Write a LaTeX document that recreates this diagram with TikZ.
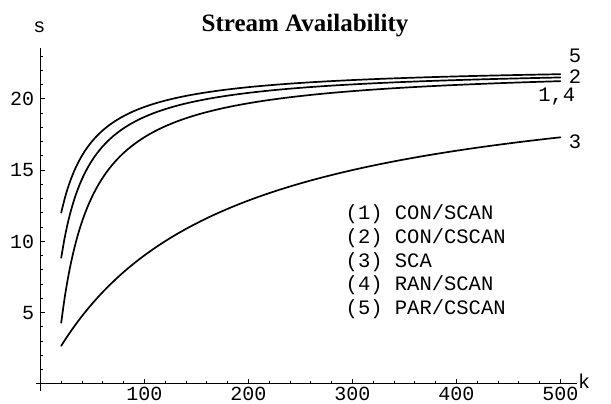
\documentclass[tikz,border=0pt]{standalone}
\usepackage{fontspec}
\setmainfont{Liberation Serif}
\setmonofont{Liberation Mono}
\begin{document}
\begin{tikzpicture}[x=1pt,y=1pt,
  curve/.style={line width=1.7pt, line join=round, line cap=round},
  axisline/.style={line width=0.9pt},
  tickmark/.style={line width=0.7pt},
  ticklab/.style={font=\fontsize{20}{24}\selectfont\ttfamily, inner sep=0pt, text height=12pt, text depth=0pt},
  legendtxt/.style={font=\fontsize{20.5}{24}\selectfont\ttfamily, inner sep=0pt, anchor=base west},
  curvelab/.style={font=\fontsize{20.5}{24}\selectfont\ttfamily, inner sep=0pt, anchor=base, text height=11.5pt, text depth=1.5pt},
  titletxt/.style={font=\fontsize{25}{30}\selectfont\bfseries, inner sep=0pt, anchor=base}]
\useasboundingbox (0,0) rectangle (611,404);
\fill[white] (0,0) rectangle (611,404);

% plot area: k on the horizontal axis, s on the vertical axis
\begin{scope}[shift={(40.4pt,20.4pt)}, x=1.04pt, y=14.24pt]
  % axes
  \draw[axisline] (-4.2,0) -- (516,0);
  \draw[axisline] (0,-0.55) -- (0,23.55);
  % minor and major ticks on k
  \foreach \k in {20,40,...,500} \draw[tickmark] (\k,0) -- ++(0,2.5pt);
  \foreach \k in {100,200,...,500} {
    \draw[tickmark] (\k,0) -- ++(0,4.5pt);
    \node[ticklab, anchor=base] at (\k,0) [yshift=-17.4pt] {\k};
  }
  % minor and major ticks on s
  \foreach \s in {1,...,23} \draw[tickmark] (0,\s) -- ++(2.5pt,0);
  \foreach \s in {5,10,15,20} {
    \draw[tickmark] (0,\s) -- ++(4.5pt,0);
    \node[ticklab, anchor=base east] at (0,\s) [xshift=-6pt, yshift=-7pt] {\s};
  }
  % the four availability curves
  \draw[curve] plot[domain=20:500, samples=150, smooth] (\x, {22.37-328.8/(\x+11.7)});
  \draw[curve] plot[domain=20:500, samples=150, smooth] (\x, {22.25-382.5/(\x+8.5)});
  \draw[curve] plot[domain=20:500, samples=150, smooth] (\x, {22.33-557.4/(\x+10.86)});
  \draw[curve] plot[domain=20:500, samples=150, smooth] (\x, {22.47-3361.5/(\x+149.6)});
\end{scope}

% axis names and title
\node[titletxt] (title) at (305,372.3) {Stream Availability};
\node[ticklab, anchor=base] (slab) at (39.5,371) {s};
\node[ticklab, anchor=base] (klab) at (584,15) {k};

% curve numbers at the right-hand ends
\node[curvelab] (c5) at (575,341.3) {5};
\node[curvelab] (c2) at (575,320.5) {2};
\node[curvelab] (c14) at (556.7,302.5) {1,4};
\node[curvelab] (c3) at (575,255.7) {3};

% legend
\node[legendtxt] (l1) at (345.5,184) {(1) CON/SCAN};
\node[legendtxt] (l2) at (345.5,160.4) {(2) CON/CSCAN};
\node[legendtxt] (l3) at (345.5,136.8) {(3) SCA};
\node[legendtxt] (l4) at (345.5,113.2) {(4) RAN/SCAN};
\node[legendtxt] (l5) at (345.5,89.6) {(5) PAR/CSCAN};
\end{tikzpicture}
\end{document}
